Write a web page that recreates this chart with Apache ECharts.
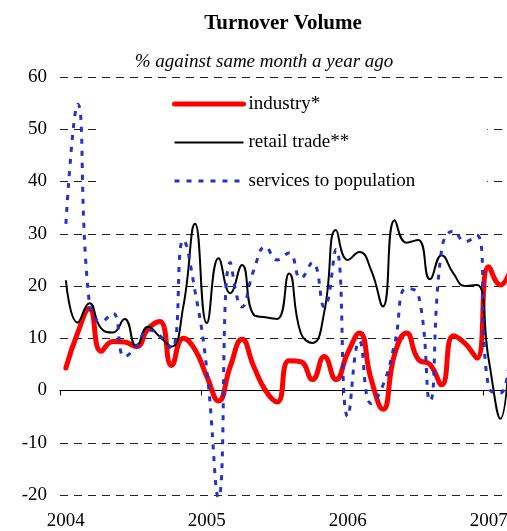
<!DOCTYPE html>
<html><head><meta charset="utf-8">
<script src="https://cdn.jsdelivr.net/npm/echarts@6/dist/echarts.min.js"></script>
<style>html,body{margin:0;padding:0;background:#fff;overflow:hidden}#c{width:518px;height:531px}</style>
</head><body><div id="c"></div>
<script>
const months = [
  '2004-01','2004-02','2004-03','2004-04','2004-05','2004-06','2004-07','2004-08','2004-09','2004-10','2004-11','2004-12',
  '2005-01','2005-02','2005-03','2005-04','2005-05','2005-06','2005-07','2005-08','2005-09','2005-10','2005-11','2005-12',
  '2006-01','2006-02','2006-03','2006-04','2006-05','2006-06','2006-07','2006-08','2006-09','2006-10','2006-11','2006-12',
  '2007-01','2007-02','2007-03'
];
const yearLabels = ['2004','2005','2006','2007'];
const industry = [
  4.3, 11.0, 15.7, 7.5, 9.4, 9.3, 8.4, 11.8, 13.2, 4.8, 10.0, 7.8,
  2.7, -2.0, 4.6, 9.8, 4.6, 0.0, -2.2, 5.7, 5.5, 2.1, 6.5, 2.1,
  7.2, 11.0, 2.1, -3.6, 7.0, 11.0, 6.0, 5.0, 1.1, 10.5, 9.0, 6.2,
  23.7, 20.2, 24.0
];
const retail = [
  21.1, 13.0, 16.7, 11.9, 11.1, 13.7, 8.4, 12.2, 10.3, 8.4, 16.1, 31.9,
  12.9, 25.3, 18.6, 24.0, 14.5, 14.0, 13.7, 22.4, 11.0, 9.1, 15.0, 30.7,
  25.0, 26.5, 23.0, 16.1, 32.6, 28.3, 28.8, 21.3, 25.9, 22.4, 20.0, 20.2,
  6.0, -5.4, 18.0
];
const services = [
  31.9, 54.8, 16.7, 13.2, 14.8, 6.5, 8.4, 11.6, 10.5, 8.0, 28.8, 19.0,
  4.0, -20.5, 24.5, 16.0, 23.0, 27.5, 25.0, 26.3, 21.5, 24.5, 16.0, 27.0,
  -5.0, 9.5, -2.5, 1.0, 9.0, 19.5, 18.5, -2.0, 27.0, 30.5, 28.5, 29.7,
  0.5, -0.5, 15.0
];
const seriesNames = ['industry*', 'retail trade**', 'services to population'];

const FONT = "'Liberation Serif', 'Times New Roman', serif";
const chart = echarts.init(document.getElementById('c'), null, {renderer: 'canvas'});
chart.setOption({
  animation: false,
  backgroundColor: '#fff',
  graphic: [
    {type: 'text', x: 283, y: 24, style: {text: 'Turnover Volume', font: 'bold 21px ' + FONT, fill: '#000', textAlign: 'center', textVerticalAlign: 'middle'}},
    {type: 'text', x: 264, y: 62, style: {text: '% against same month a year ago', font: 'italic 19px ' + FONT, fill: '#000', textAlign: 'center', textVerticalAlign: 'middle'}}
  ],
  grid: {left: 60, top: 77, right: 0, height: 420, containLabel: false},
  legend: {
    orient: 'vertical',
    left: 100, top: 86,
    padding: [8, 72, 8, 72],
    backgroundColor: '#fff',
    itemWidth: 69, itemHeight: 20, itemGap: 18.5,
    data: seriesNames,
    lineStyle: {width: 'inherit'},
    itemStyle: {opacity: 0},
    textStyle: {fontFamily: FONT, fontSize: 19, color: '#000', lineHeight: 20},
    selectedMode: false,
    z: 10
  },
  xAxis: {
    type: 'category',
    data: months,
    boundaryGap: true,
    axisLine: {show: true, lineStyle: {color: '#000', width: 1}},
    axisTick: {show: true, length: 5, interval: (i) => i % 12 === 0, lineStyle: {color: '#000'}},
    axisLabel: {
      interval: (i) => i % 12 === 0,
      formatter: (v) => yearLabels[yearLabels.indexOf(v.slice(0,4))],
      fontFamily: FONT, fontSize: 19, color: '#000', margin: 17
    },
    splitLine: {show: false}
  },
  yAxis: {
    type: 'value',
    min: -20, max: 60, interval: 10,
    axisLine: {show: false},
    axisTick: {show: false},
    axisLabel: {fontFamily: FONT, fontSize: 19, color: '#000', margin: 13},
    splitLine: {show: true, lineStyle: {color: '#222', width: 1, type: [8, 6]}}
  },
  series: [
    {name: seriesNames[0], type: 'line', data: industry, smooth: true, symbol: 'none',
     lineStyle: {color: '#ff0000', width: 5, cap: 'round', join: 'round'}, itemStyle: {color: '#ff0000'}, z: 3},
    {name: seriesNames[1], type: 'line', data: retail, smooth: true, symbol: 'none',
     lineStyle: {color: '#000', width: 2, join: 'round'}, itemStyle: {color: '#000'}, z: 4},
    {name: seriesNames[2], type: 'line', data: services, smooth: true, symbol: 'none', clip: false,
     lineStyle: {color: '#2233cc', width: 3, type: [5, 7]}, itemStyle: {color: '#2233cc'}, z: 5}
  ]
});
</script>
</body></html>
